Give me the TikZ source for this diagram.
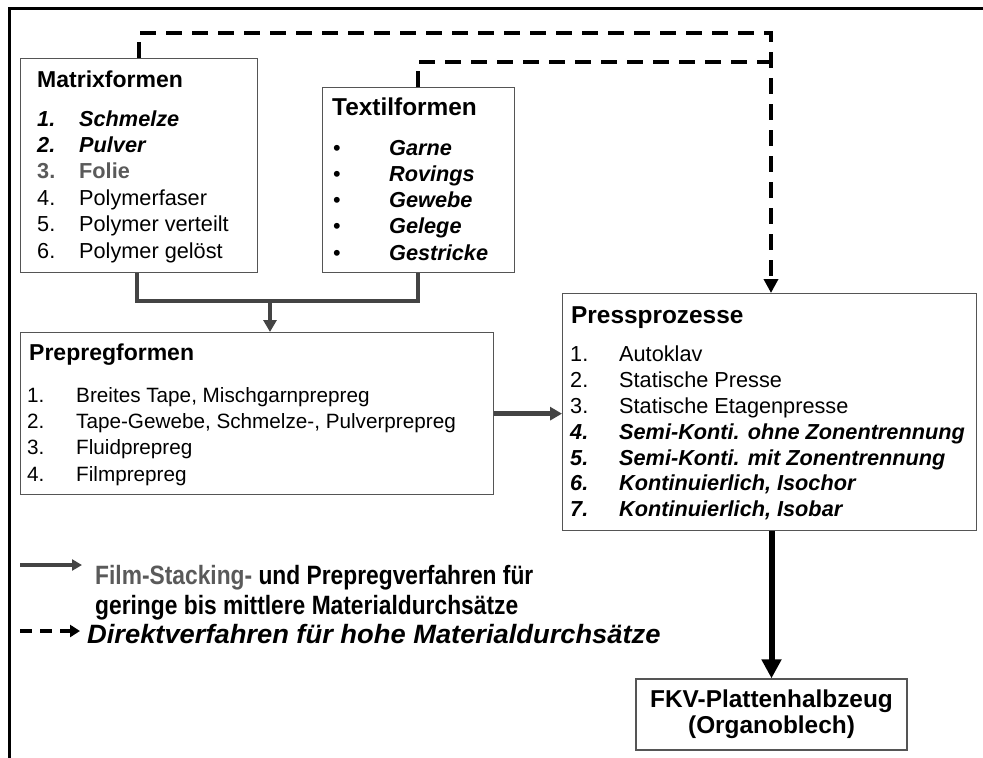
\documentclass[tikz,border=0pt]{standalone}
\usepackage{fontspec}
\setmainfont{Liberation Sans}
\newfontfamily\narrowsans[FakeStretch=0.86]{Liberation Sans}
\newfontfamily\widesans[FakeStretch=1.03]{Liberation Sans}
\usetikzlibrary{arrows.meta}

\definecolor{boxline}{HTML}{555555}
\definecolor{flow}{HTML}{444444}
\definecolor{greytext}{HTML}{5A5A5A}

\tikzset{
  box/.style={draw=boxline, line width=1.3pt, fill=white, inner sep=0pt, anchor=north west},
  item/.style={anchor=base west, inner sep=0pt, font=\fontsize{21.7}{25}\selectfont},
  bitem/.style={item, font=\fontsize{21.7}{25}\selectfont\bfseries\itshape},
  pitem/.style={item, font=\fontsize{20.7}{24}\selectfont},
  title/.style={anchor=base west, inner sep=0pt, font=\fontsize{23}{27}\selectfont\bfseries},
  btitle/.style={title, font=\fontsize{24.4}{28}\selectfont\bfseries},
  legend/.style={anchor=base west, inner sep=0pt, font=\narrowsans\fontsize{26.5}{30}\selectfont\bfseries},
  direct/.style={draw=black, line width=4pt, dash pattern=on 16pt off 10pt},
  film/.style={draw=flow, line width=4.5pt, line join=miter},
  filmtip/.style={-{Triangle[length=12pt,width=13pt]}},
  directtip/.style={-{Triangle[length=14pt,width=14pt]}},
}

\begin{document}
\begin{tikzpicture}[x=1pt, y=-1pt]
\useasboundingbox (0,0) rectangle (983,758);

% outer frame (top and left edge)
\draw[line width=3pt] (9.5,758) -- (9.5,8.5) -- (983,8.5);

% boxes
\node[box, minimum width=237pt, minimum height=214pt] (matrix)  at (20,58)  {};
\node[box, minimum width=192pt, minimum height=185pt] (textil)  at (322,87) {};
\node[box, minimum width=473pt, minimum height=162pt] (prepreg) at (20,332) {};
\node[box, minimum width=414pt, minimum height=237pt] (press)   at (562,293) {};
\node[box, anchor=center, minimum width=271pt, minimum height=71pt, align=center,
      font=\fontsize{24.4}{26}\selectfont\bfseries] (fkv) at (771.5,714.5)
      {FKV-Plattenhalbzeug\\(Organoblech)};

% Matrixformen
\node[title] (mt) at (37,87) {Matrixformen};
\node[bitem] (m1n) at (37,126)    {1.};  \node[bitem] (m1) at (79,126)    {Schmelze};
\node[bitem] (m2n) at (37,152.4)  {2.};  \node[bitem] (m2) at (79,152.4)  {Pulver};
\node[item, font=\fontsize{21.7}{25}\selectfont\bfseries, text=greytext] (m3n) at (37,178.8) {3.};
\node[item, font=\fontsize{21.7}{25}\selectfont\bfseries, text=greytext] (m3) at (79,178.8) {Folie};
\node[item] (m4n) at (37,205.2) {4.};  \node[item] (m4) at (79,205.2) {Polymerfaser};
\node[item] (m5n) at (37,231.6) {5.};  \node[item] (m5) at (79,231.6) {Polymer verteilt};
\node[item] (m6n) at (37,258)   {6.};  \node[item] (m6) at (79,258)   {Polymer gelöst};

% Textilformen
\node[btitle] (tt) at (332,115) {Textilformen};
\node[item] (t1b) at (333,155)   {•}; \node[bitem] (t1) at (389,155)   {Garne};
\node[item] (t2b) at (333,181.2) {•}; \node[bitem] (t2) at (389,181.2) {Rovings};
\node[item] (t3b) at (333,207.5) {•}; \node[bitem] (t3) at (389,207.5) {Gewebe};
\node[item] (t4b) at (333,233.7) {•}; \node[bitem] (t4) at (389,233.7) {Gelege};
\node[item] (t5b) at (333,260)   {•}; \node[bitem] (t5) at (389,260)   {Gestricke};

% Prepregformen
\node[title] (pt) at (29,360) {Prepregformen};
\node[pitem] (p1n) at (27,402.5) {1.}; \node[pitem] (p1) at (76,402.5) {Breites Tape, Mischgarnprepreg};
\node[pitem] (p2n) at (27,428.5) {2.}; \node[pitem] (p2) at (76,428.5) {Tape-Gewebe, Schmelze-, Pulverprepreg};
\node[pitem] (p3n) at (27,454.5) {3.}; \node[pitem] (p3) at (76,454.5) {Fluidprepreg};
\node[pitem] (p4n) at (27,481)   {4.}; \node[pitem] (p4) at (76,481)   {Filmprepreg};

% Pressprozesse
\node[btitle] (st) at (571,323) {Pressprozesse};
\node[item]  (s1n) at (570,361)   {1.}; \node[item]  (s1) at (619,361)   {Autoklav};
\node[item]  (s2n) at (570,387)   {2.}; \node[item]  (s2) at (619,387)   {Statische Presse};
\node[item]  (s3n) at (570,413)   {3.}; \node[item]  (s3) at (619,413)   {Statische Etagenpresse};
\node[bitem] (s4n) at (570,439)   {4.}; \node[bitem] (s4) at (619,439)   {Semi-Konti. ohne Zonentrennung};
\node[bitem] (s5n) at (570,465)   {5.}; \node[bitem] (s5) at (619,465)   {Semi-Konti. mit Zonentrennung};
\node[bitem] (s6n) at (570,490.5) {6.}; \node[bitem] (s6) at (619,490.5) {Kontinuierlich, Isochor};
\node[bitem] (s7n) at (570,516.5) {7.}; \node[bitem] (s7) at (619,516.5) {Kontinuierlich, Isobar};

% direct routes (dashed)
\coordinate (dA) at (771,33);
\coordinate (dB) at (771,62);
\draw[direct, directtip] ([xshift=119pt]matrix.north west) |- (dA) -- (dA |- press.north);
\draw[direct] ([xshift=96pt]textil.north west) |- (dB);

% film stacking / prepreg route (solid)
\coordinate (join) at (270,301);
\draw[film] ([xshift=117pt]matrix.south west) |- (join) -| ([xshift=96pt]textil.south west);
\draw[film, filmtip] (join) -- (join |- prepreg.north);
\draw[film, filmtip] (prepreg.east) -- (prepreg.east -| press.west);

% to the semi-finished product
\draw[black, line width=6pt, -{Triangle[length=19pt,width=19pt]}] (fkv.north |- press.south) -- (fkv.north);

% legend
\coordinate (l1a) at (20,565);  \coordinate (l1b) at (82,565);
\coordinate (l2a) at (20,631);  \coordinate (l2b) at (80,631);
\draw[film, line width=4pt, -{Triangle[length=10pt,width=11pt]}] (l1a) -- (l1b);
\draw[black, line width=4pt, dash pattern=on 12pt off 8pt, -{Triangle[length=10pt,width=12pt]}] (l2a) -- (l2b);
\node[legend] (lg1) at (95,584) {\textcolor{greytext}{Film-Stacking-} und Prepregverfahren für};
\node[legend] (lg2) at (95,614) {geringe bis mittlere Materialdurchsätze};
\node[legend, font=\widesans\fontsize{26.5}{30}\selectfont\bfseries\itshape] (lg3) at (87,643) {Direktverfahren für hohe Materialdurchsätze};
\end{tikzpicture}
\end{document}
